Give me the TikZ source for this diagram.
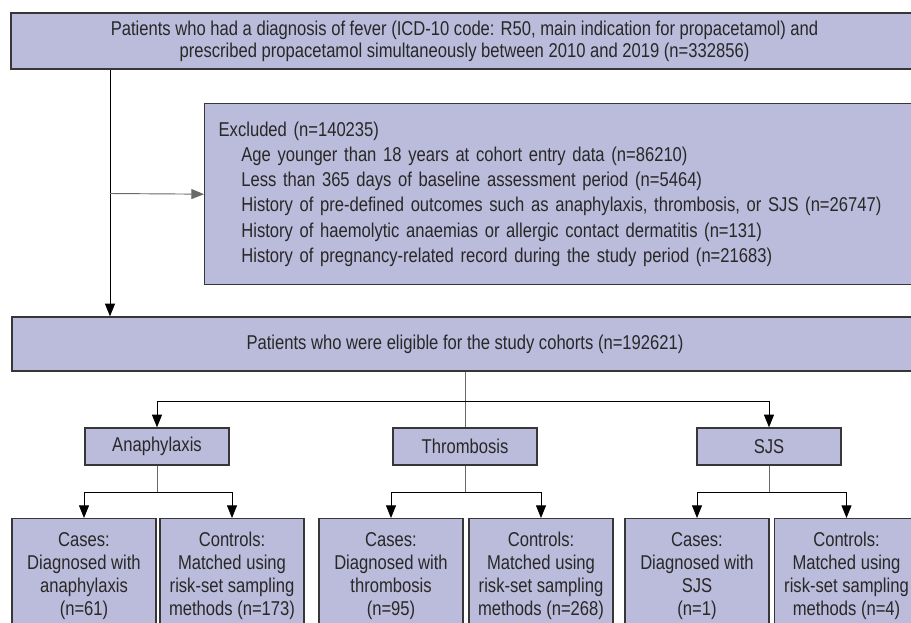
\documentclass[tikz,border=0pt]{standalone}
\usepackage{fontspec}
\setmainfont{Liberation Sans}[FakeStretch=0.83]
\usetikzlibrary{arrows.meta}

\definecolor{boxfill}{RGB}{187,187,219}
\definecolor{boxline}{RGB}{55,55,55}
\definecolor{stemline}{RGB}{105,105,105}
\definecolor{textgray}{RGB}{40,40,40}

\tikzset{every picture/.style={line width=0.75pt}}
\tikzset{
	flowbox/.style={draw=boxline, fill=boxfill, line width=1pt, inner sep=0pt, text=textgray, align=center},
	catbox/.style={flowbox, minimum width=108pt, minimum height=27.75pt, font=\fontsize{15}{17}\selectfont},
	armbox/.style={flowbox, anchor=north, minimum width=108pt, minimum height=85.5pt, font=\fontsize{15}{17.25}\selectfont},
	stem/.style={draw=stemline, line width=0.7pt},
	link/.style={draw=black, line width=0.7pt, -{Triangle[length=9.5pt,width=7.5pt]}},
}

\begin{document}
\begin{tikzpicture}[x=0.75pt,y=0.75pt,yscale=-1,xscale=1]
	\useasboundingbox (0,0) rectangle (911,622);

	% Source population
	\node[flowbox, minimum width=680.25pt, minimum height=42pt, font=\fontsize{15}{16.5}\selectfont] (source) at (464.5,41)
		{Patients who had a diagnosis of fever (ICD-10 code: R50, main indication for propacetamol) and\\
		 prescribed propacetamol simultaneously between 2010 and 2019 (n=332856)};
	% Exclusions
	\node[flowbox, anchor=north west, minimum width=535.5pt, minimum height=135.75pt, text width=514.5pt, align=left, font=\fontsize{15}{18.9}\selectfont] (excluded) at (204,103)
		{Excluded (n=140235)\\
		 \hspace*{17pt}Age younger than 18 years at cohort entry data (n=86210)\\
		 \hspace*{17pt}Less than 365 days of baseline assessment period (n=5464)\\
		 \hspace*{17pt}History of pre-defined outcomes such as anaphylaxis, thrombosis, or SJS (n=26747)\\
		 \hspace*{17pt}History of haemolytic anaemias or allergic contact dermatitis (n=131)\\
		 \hspace*{17pt}History of pregnancy-related record during the study period (n=21683)};
	% Eligible
	\node[flowbox, minimum width=679.5pt, minimum height=40.5pt, font=\fontsize{15}{17}\selectfont] (eligible) at (465,344)
		{Patients who were eligible for the study cohorts (n=192621)};

	% Outcome cohorts
	\node[catbox] (anaph) at (157,446.5) {Anaphylaxis};
	\node[catbox] (thromb) at (465,446.5) {Thrombosis};
	\node[catbox] (sjs) at (769,446.5) {SJS};

	% Cases and controls
	\node[armbox] (anaphcase) at (84,518) {Cases:\\Diagnosed with\\anaphylaxis\\(n=61)};
	\node[armbox] (anaphctrl) at (232,518) {Controls:\\Matched using\\risk-set sampling\\methods (n=173)};
	\node[armbox] (thrombcase) at (391,518) {Cases:\\Diagnosed with\\thrombosis\\(n=95)};
	\node[armbox] (thrombctrl) at (541,518) {Controls:\\Matched using\\risk-set sampling\\methods (n=268)};
	\node[armbox] (sjscase) at (697,518) {Cases:\\Diagnosed with\\SJS\\(n=1)};
	\node[armbox] (sjsctrl) at (846.5,518) {Controls:\\Matched using\\risk-set sampling\\methods (n=4)};

	% Exclusion split
	\coordinate (split) at (110,193.5);
	\draw[link] (source.south -| split) -- (eligible.north -| split);
	\draw[link, draw=stemline] (split) -- (excluded.west);

	% Cohort split
	\coordinate (fork) at (465,401);
	\draw[stem] (eligible) -- (thromb);
	\draw[link] (fork) -| (anaph);
	\draw[link] (fork) -| (sjs);

	% Case-control split
	\foreach \cohort in {anaph,thromb,sjs} {
		\path (\cohort.south) ++(0,27) coordinate (\cohort fork);
		\draw[stem] (\cohort) -- (\cohort fork);
		\draw[link] (\cohort fork) -| (\cohort case);
		\draw[link] (\cohort fork) -| (\cohort ctrl);
	}

\end{tikzpicture}
\end{document}
